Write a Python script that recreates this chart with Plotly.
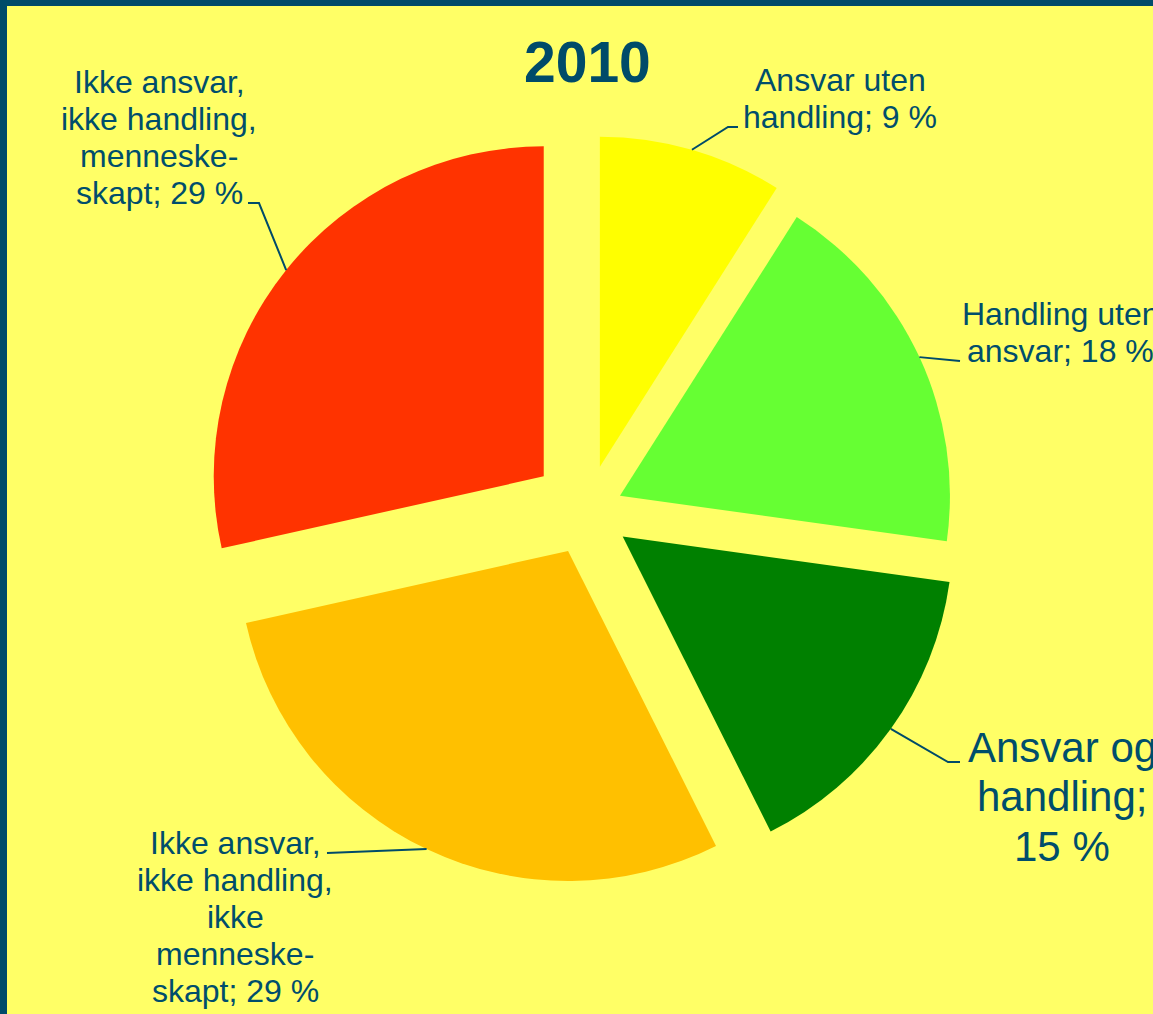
import math
import plotly.graph_objects as go

# ---------------- data ----------------
title_text = "2010"
categories = [
    "Ansvar uten handling",
    "Handling uten ansvar",
    "Ansvar og handling",
    "Ikke ansvar, ikke handling, ikke menneskeskapt",
    "Ikke ansvar, ikke handling, menneskeskapt",
]
values = [9.0, 18.2, 15.4, 28.9, 28.5]
label_lines = [
    ["Ansvar uten", "handling; {p} %"],
    ["Handling uten", "ansvar; {p} %"],
    ["Ansvar og", "handling;", "{p} %"],
    ["Ikke ansvar,", "ikke handling,", "ikke", "menneske-", "skapt; {p} %"],
    ["Ikke ansvar,", "ikke handling,", "menneske-", "skapt; {p} %"],
]

# ---------------- style ----------------
W, H = 1153, 1014
BG = "#FFFF66"
BORDER = "#004B69"
TEXT = "#004E6C"
FONT = "Liberation Sans, Arial, sans-serif"
colors = ["#FFFF00", "#66FF33", "#008000", "#FFC000", "#FF3300"]
pulls = [0.140, 0.110, 0.133, 0.134, 0.168]

# pie geometry (pixels)
CX, CY, R = 587, 511, 330
max_pull = max(pulls)
half = R * (1 + max_pull)
dom_x = [(CX - half) / W, (CX + half) / W]
dom_y = [1 - (CY + half) / H, 1 - (CY - half) / H]

# label placement (pixels): center x, block center y, line spacing, font size
label_pos = [
    (840, 98.5, 37.5, 32),
    (1060, 332.5, 37.0, 32),
    (1062, 796.5, 49.5, 42),
    (235, 917.0, 37.0, 32),
    (159, 137.5, 36.7, 32),
]
# leader line bends / ends (pixels), after the arc start point
leader_pts = [
    [(728, 127), (738, 127)],
    [(960, 361)],
    [(948, 762), (960, 762)],
    [(327, 853)],
    [(259, 203), (248, 203)],
]


def px(x):
    return x / W


def py(y):
    return 1 - y / H


fig = go.Figure()
fig.add_trace(go.Pie(
    labels=categories,
    values=values,
    marker=dict(colors=colors, line=dict(width=0)),
    pull=pulls,
    sort=False,
    direction="clockwise",
    rotation=0,
    textinfo="none",
    hoverinfo="label+percent",
    showlegend=False,
    domain=dict(x=dom_x, y=dom_y),
))

total = sum(values)
annotations = []
shapes = []

# border (left and top)
shapes.append(dict(type="rect", xref="paper", yref="paper", x0=0, x1=px(7), y0=0, y1=1,
                   fillcolor=BORDER, line=dict(width=0), layer="below"))
shapes.append(dict(type="rect", xref="paper", yref="paper", x0=0, x1=1, y0=py(6), y1=1,
                   fillcolor=BORDER, line=dict(width=0), layer="below"))

cum = 0.0
for i, v in enumerate(values):
    frac = v / total
    mid = (cum + frac / 2) * 2 * math.pi
    cum += frac
    dist = R * (1 + pulls[i])
    sx = CX + dist * math.sin(mid)
    sy = CY - dist * math.cos(mid)
    pts = [(sx, sy)] + leader_pts[i]
    path = "M " + " L ".join(f"{px(x):.5f},{py(y):.5f}" for x, y in pts)
    shapes.append(dict(type="path", xref="paper", yref="paper", path=path,
                       line=dict(color=BORDER, width=2)))

    # half-up rounding of the percentage (as the source chart shows it)
    pct = int(math.floor(frac * 100 + 0.5 + 1e-9))
    lx, lcy, sp, fs = label_pos[i]
    lines = [s.format(p=pct) for s in label_lines[i]]
    n = len(lines)
    for j, line in enumerate(lines):
        ly = lcy + (j - (n - 1) / 2) * sp
        annotations.append(dict(
            text=line, x=px(lx), y=py(ly), xref="paper", yref="paper",
            xanchor="center", yanchor="middle", showarrow=False,
            font=dict(family=FONT, size=fs, color=TEXT),
        ))

annotations.append(dict(
    text=f"<b>{title_text}</b>", x=px(587), y=py(61.5), xref="paper", yref="paper",
    xanchor="center", yanchor="middle", showarrow=False,
    font=dict(family=FONT, size=57, color=BORDER),
))

fig.update_layout(
    width=W, height=H,
    margin=dict(l=0, r=0, t=0, b=0),
    paper_bgcolor=BG,
    plot_bgcolor=BG,
    annotations=annotations,
    shapes=shapes,
)

fig.write_html("out.html")
